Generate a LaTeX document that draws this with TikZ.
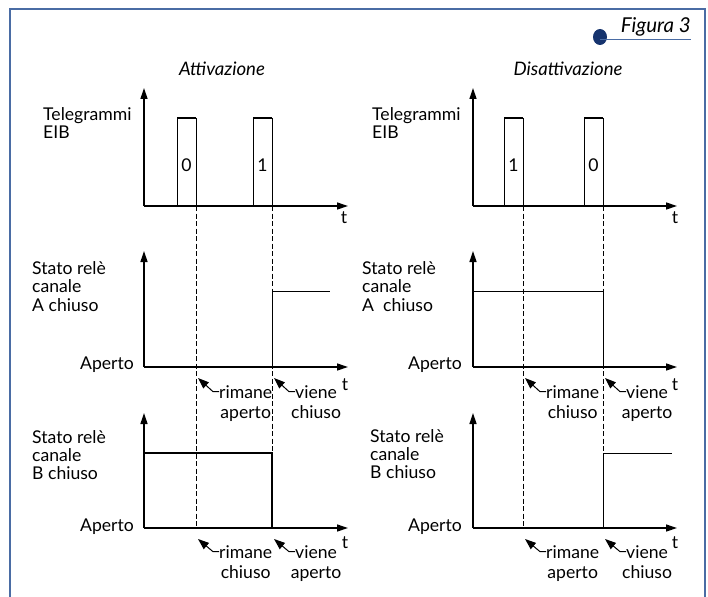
\documentclass[tikz,border=0pt]{standalone}
\usepackage{fontspec}
\setmainfont{Lato}
\usetikzlibrary{arrows.meta,calc}
\definecolor{frameblue}{RGB}{74,108,164}
\definecolor{navy}{RGB}{22,52,110}
\begin{document}
\begin{tikzpicture}[x=1pt,y=-1pt,
  lab/.style={font=\fontsize{17.6}{21}\selectfont, inner sep=0pt},
  ttl/.style={font=\fontsize{18.6}{22}\selectfont\itshape, inner sep=0pt},
  axis/.style={line width=1.3pt, -{Triangle[length=11pt,width=7pt]}},
  sig/.style={line width=1pt},
  sigb/.style={line width=1.3pt},
  pulsetop/.style={line width=2pt},
  guide/.style={dash pattern=on 5pt off 2.5pt, line width=0.9pt},
  pointer/.style={line width=1pt, -{Triangle[length=11pt,width=8pt]}}]
\useasboundingbox (0,0) rectangle (708,596);
% frame
\draw[frameblue, line width=1.6pt] (10,597) -- (10,9) -- (705,9) -- (705,597);
% figure tag
\fill[navy] (600,37) ellipse [x radius=7, y radius=8];
\node[ttl, font=\fontsize{20.5}{24}\selectfont\itshape, anchor=base east] (fig) at (691,33) {Figura 3};
\coordinate (figc) at (600,40);
\draw[frameblue, line width=1pt] (figc) -- (fig.south east |- figc);
% titles
\node[ttl] (tA) at (222,69) {Attivazione};
\node[ttl] (tD) at (568,69) {Disattivazione};

% ---------- axes ----------
\foreach \ox/\tx/\nm in {144/348/L, 473/677/R}{
  \coordinate (\nm o1) at (\ox,206);
  \coordinate (\nm o2) at (\ox,367);
  \coordinate (\nm o3) at (\ox,528);
  \draw[axis] (\nm o1) -- (\ox,88);
  \draw[axis] (\nm o1) -- (\tx,206);
  \draw[axis] (\nm o2) -- (\ox,251);
  \draw[axis] (\nm o2) -- (\tx,367);
  \draw[axis] (\nm o3) -- (\ox,413);
  \draw[axis] (\nm o3) -- (\tx,528);
}

% ---------- guides ----------
\foreach \xd in {196,272,523,603}{
  \draw[guide] (\xd,206) -- (\xd,528);
}

% ---------- pulses ----------
\foreach \xa/\xb/\d/\nm in {177/196/0/p1, 253/272/1/p2, 504/523/1/p3, 584/603/0/p4}{
  \draw[sig] (\xa,206) -- (\xa,118);
  \draw[sig] (\xb,118) -- (\xb,206);
  \draw[pulsetop] (\xa,118) -- (\xb,118);
  \node[lab] (\nm) at ({(\xa+\xb)/2},165) {\d};
}

% ---------- signals ----------
\draw[sig] (272,367) -- (272,291) -- (330,291);
\draw[sig] (473,291) -- (603,291) -- (603,367);
\draw[sigb] (144,453) -- (272,453) -- (272,528);
\draw[sig] (603,528) -- (603,453) -- (672,453);

% ---------- t labels ----------
\node[lab] (tL1) at (344,218) {t};
\node[lab] (tL2) at (345,385) {t};
\node[lab] (tL3) at (345,543) {t};
\node[lab] (tR1) at (675,218) {t};
\node[lab] (tR2) at (675,385) {t};
\node[lab] (tR3) at (675,543) {t};

% ---------- axis labels ----------
\foreach \t [count=\i] in {Telegrammi, EIB}{
  \node[lab, anchor=base west] (telL\i) at (43,{121+18*(\i-1)}) {\t};
  \node[lab, anchor=base west] (telR\i) at (372,{121+18*(\i-1)}) {\t};
}
\foreach \t [count=\i] in {Stato relè, canale, A chiuso}{
  \node[lab, anchor=base west] (saL\i) at (32,{274+18.5*(\i-1)}) {\t};
}
\foreach \t [count=\i] in {Stato relè, canale, A~~chiuso}{
  \node[lab, anchor=base west] (saR\i) at (362,{274+18.5*(\i-1)}) {\t};
}
\foreach \t [count=\i] in {Stato relè, canale, B chiuso}{
  \node[lab, anchor=base west] (sbL\i) at (32,{443+18*(\i-1)}) {\t};
  \node[lab, anchor=base west] (sbR\i) at (370,{442+18*(\i-1)}) {\t};
}
\node[lab, anchor=base east] (apL2) at (134,369) {Aperto};
\node[lab, anchor=base east] (apR2) at (462,369) {Aperto};
\node[lab, anchor=base east] (apL3) at (134,531) {Aperto};
\node[lab, anchor=base east] (apR3) at (462,531) {Aperto};

% ---------- pointer labels ----------
\foreach \xd/\ay/\bl/\ta/\tb/\nm in {
  196/367/398/rimane/aperto/a1, 272/367/398/viene/chiuso/a2,
  196/528/558/rimane/chiuso/a3, 272/528/558/viene/aperto/a4,
  523/367/398/rimane/chiuso/a5, 603/367/398/viene/aperto/a6,
  523/528/558/rimane/aperto/a7, 603/528/558/viene/chiuso/a8}{
  \node[lab, anchor=base west] (\nm) at ({\xd+23},\bl) {\ta};
  \node[lab, anchor=base] (\nm b) at ($(\nm.base)+(0,20)$) {\tb};
  \coordinate (\nm tip) at ({\xd+2},{\ay+11});
  \draw[pointer] (\nm.west) -- ++(-6,0) -- (\nm tip);
}
\end{tikzpicture}
\end{document}
